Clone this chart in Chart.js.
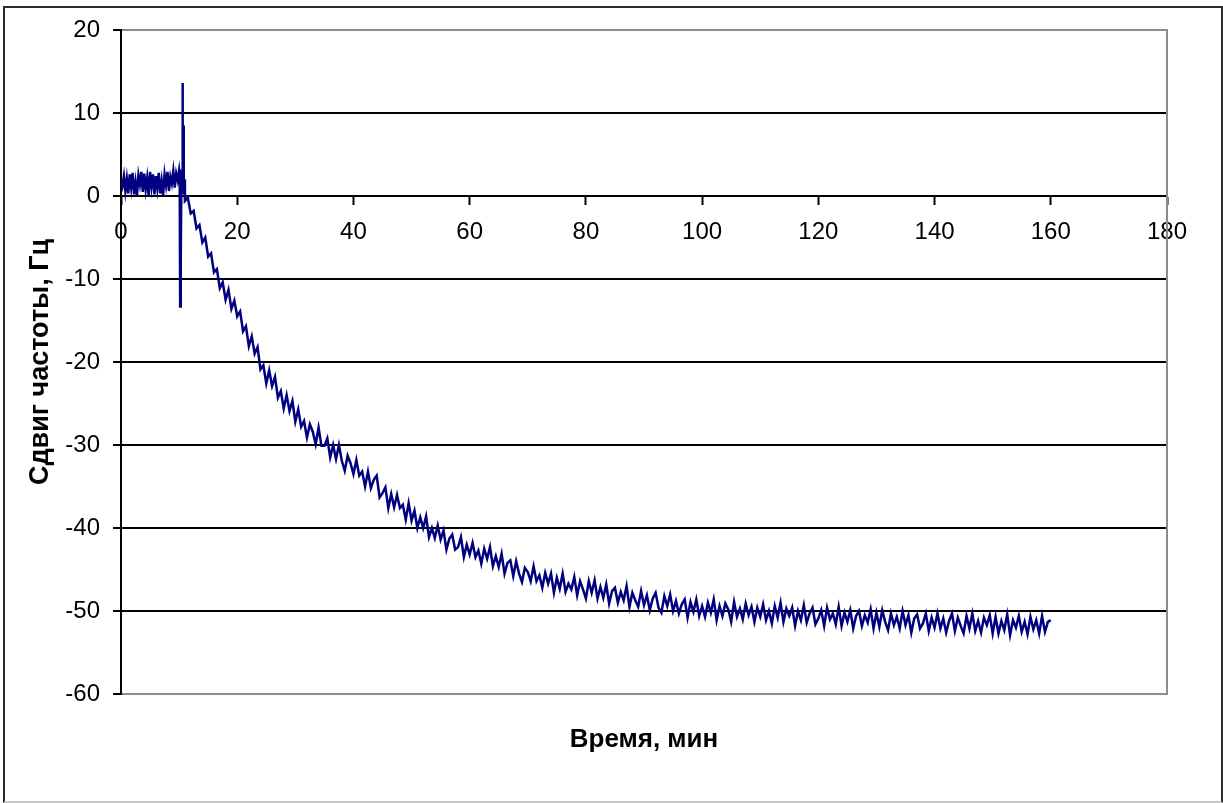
<!DOCTYPE html>
<html>
<head>
<meta charset="utf-8">
<script src="https://cdn.jsdelivr.net/npm/chart.js@4"></script>
<style>
	html, body { margin: 0; padding: 0; background: #fff; }
	.frame {
		position: absolute; left: 3px; top: 6px; width: 1216px; height: 793px;
		border: 2px solid #2a2a2a; border-bottom-color: #c8c8c8;
	}
	.div_chart { position: absolute; left: 0; top: 0; width: 1223px; height: 803px; }
</style>
</head>
<body>
<div class="frame"></div>
<div class="div_chart"><canvas class="chart"></canvas></div>
<script>
// before the step: noisy baseline, time in minutes
const baseStart = 0;
const baseStep = 0.25;
const baseValues = [1.9, 1.2, 2.4, 0.6, 2.1, 0.3, 2.6, 1.0, 2.8, 0.2, 1.7, 0.1, 2.5, 1.4,
	2.9, 0.5, 2.7, 0.8, 2.2, 0.1, 2.9, 1.1, 2.6, 0.2, 2.4, 0.9, 2.8, 0.3, 1.8, 0.1, 2.6, 1.3,
	2.9, 0.6, 2.3, 1.5, 3.0, 1.0, 2.7, 1.9, 3.1];

// the spike around 10 min
const spikeTimes = [10.1, 10.18, 10.25, 10.32, 10.4, 10.5, 10.58, 10.65, 10.72, 10.8, 10.9, 11.0];
const spikeValues = [2.4, -13.3, 2.6, -7.5, 3.2, 1.2, 13.6, 0.5, 8.5, 0.2, 2.0, -0.6];

// decay after the step, sampled every 0.5 min
const decayStart = 11.5;
const decayStep = 0.5;
const decayEarly = [-0.2, -2.1, -1.8, -3.9, -3.5, -5.6, -5.0, -7.3, -6.9, -9.2, -8.8, -11.1,
	-10.4, -12.5, -11.3, -13.6, -12.6, -14.5,
	-13.9, -16.3, -15.7, -18.1, -16.9, -19.0, -18.2, -20.9, -20.4, -22.6, -21.0, -22.9,
	-21.8, -24.3, -23.5, -25.6, -24.0, -25.9, -24.7, -27.2,
	-25.7, -27.8, -27.1, -29.1, -27.5, -28.4, -29.9, -27.9, -30.1, -30.1, -29.2, -31.5,
	-30.0, -31.7, -30.0, -31.9, -33.1, -31.3, -32.2, -33.5,
	-31.8, -33.7, -33.2, -35.0, -33.2, -35.2, -34.2, -33.7, -36.3, -35.8, -35.1, -37.6,
	-35.9, -37.5, -36.0, -37.6, -37.2, -39.0, -37.0, -39.1];
const decayMid = [-37.9, -40.0, -38.7, -40.0, -38.6, -41.1, -40.0, -41.2, -39.7, -41.4,
	-40.3, -42.6, -41.3, -40.8, -42.6, -42.3, -41.1, -43.5, -42.0, -43.2,
	-41.8, -43.5, -42.7, -44.3, -42.5, -43.7, -42.3, -44.6, -43.4, -44.7, -43.1, -45.5,
	-44.2, -43.9, -45.8, -44.0, -45.5, -46.5, -44.8, -45.3,
	-46.4, -44.6, -46.4, -45.7, -47.2, -45.4, -46.7, -45.5, -47.8, -46.0, -47.3, -45.5,
	-47.7, -46.7, -47.4, -45.9, -48.1, -46.4, -47.4, -48.5,
	-46.4, -47.8, -46.3, -48.5, -47.1, -48.4, -46.8, -49.1, -47.6, -47.2, -49.0, -47.7,
	-48.7, -47.0, -49.5, -47.8, -48.7, -49.5, -47.6, -49.3,
	-48.1, -49.9, -48.5, -47.8, -49.6, -50.2, -48.2, -49.4, -48.0, -50.0, -48.8, -50.3,
	-49.2, -48.6, -50.8, -48.9, -50.1, -48.6, -50.6, -49.4];
const decayTail = [-50.7, -49.0, -50.2, -48.6, -51.1, -49.4, -50.6, -49.1, -49.8, -51.3,
	-48.9, -50.7, -49.7, -51.0, -49.1, -50.5, -49.5, -51.3, -49.6, -50.7,
	-49.2, -51.1, -50.0, -51.5, -49.4, -50.8, -49.0, -51.3, -49.7, -50.6, -49.6, -51.8,
	-50.0, -51.1, -49.3, -51.4, -50.3, -49.6, -51.6, -50.9,
	-49.9, -51.8, -49.6, -51.0, -50.3, -51.6, -49.5, -51.8, -50.2, -51.3, -49.9, -52.1,
	-50.6, -50.0, -51.8, -50.5, -51.4, -49.8, -52.1, -50.2,
	-51.9, -49.9, -51.3, -52.3, -50.3, -51.7, -50.7, -52.1, -50.0, -51.7, -50.5, -52.6,
	-50.9, -50.4, -52.1, -51.5, -50.3, -52.4, -50.8, -52.0,
	-50.3, -52.1, -50.9, -52.6, -51.2, -50.3, -52.4, -50.8, -51.8, -52.7, -50.6, -52.1,
	-50.3, -52.4, -51.2, -52.6, -50.8, -51.7, -50.5, -52.7,
	-50.7, -52.7, -51.2, -52.3, -50.4, -52.9, -51.1, -52.0, -50.6, -52.5, -51.3, -52.8,
	-50.7, -52.2, -51.1, -52.7, -50.6, -52.5, -51.3, -51.1];

const xMin = 0, xMax = 180, xStep = 20;
const yMin = -60, yMax = 20, yStep = 10;

const fontFamily = '"Liberation Sans", Arial, sans-serif';

const buildPoints = () => {
	const points = [];
	baseValues.forEach((v, i) => points.push({ x: baseStart + i * baseStep, y: v }));
	spikeTimes.forEach((t, i) => points.push({ x: t, y: spikeValues[i] }));
	decayEarly.concat(decayMid, decayTail).forEach((v, i) =>
		points.push({ x: decayStart + i * decayStep, y: v }));
	return points;
};

// gray border on top, right and bottom of the plot area
const plotFrame = {
	id: 'plotFrame',
	beforeDatasetsDraw(chart) {
		const { ctx, chartArea: a } = chart;
		ctx.save();
		ctx.strokeStyle = '#8c8c8c';
		ctx.lineWidth = 2;
		ctx.beginPath();
		ctx.moveTo(a.left + 1, a.top);
		ctx.lineTo(a.right, a.top);
		ctx.lineTo(a.right, a.bottom);
		ctx.lineTo(a.left + 1, a.bottom);
		ctx.stroke();
		ctx.restore();
	},
};

const ctx = document.querySelector('.chart');
new Chart(ctx, {
	type: 'line',
	data: {
		datasets: [
			{
				data: buildPoints(),
				borderColor: '#000080',
				borderWidth: 2.5,
				borderJoinStyle: 'miter',
				pointRadius: 0,
				tension: 0,
				fill: false,
			},
		],
	},
	options: {
		responsive: true,
		maintainAspectRatio: false,
		animation: false,
		layout: { padding: { left: 24, top: 30, right: 56, bottom: 0 } },
		plugins: {
			legend: { display: false },
			tooltip: { enabled: false },
		},
		scales: {
			x: {
				type: 'linear',
				min: xMin,
				max: xMax,
				position: { y: 0 },
				ticks: {
					stepSize: xStep,
					color: '#000',
					font: { family: fontFamily, size: 24 },
					padding: 14,
					maxRotation: 0,
					autoSkip: false,
				},
				grid: { drawOnChartArea: false, tickLength: 8, tickColor: '#000', tickWidth: 2 },
				border: { color: '#000', width: 2 },
				afterFit: (s) => { s.height = 0; },
			},
			x2: {
				type: 'linear',
				position: 'bottom',
				min: xMin,
				max: xMax,
				ticks: { display: false },
				grid: { display: false },
				border: { display: false },
				title: {
					display: true,
					text: 'Время, мин',
					color: '#000',
					font: { family: fontFamily, size: 26, weight: 'bold' },
					padding: { top: 0, bottom: 48 },
				},
				afterFit: (s) => { s.height = 109; },
			},
			y: {
				min: yMin,
				max: yMax,
				position: 'left',
				ticks: {
					stepSize: yStep,
					color: '#000',
					font: { family: fontFamily, size: 24 },
					padding: 13,
				},
				grid: {
					color: (c) => (c.tick.value === yMax || c.tick.value === yMin ? '#8c8c8c' : '#000'),
					lineWidth: 2,
					tickLength: 8,
					tickColor: '#000',
					tickWidth: 2,
				},
				border: { color: '#000', width: 2 },
				title: {
					display: true,
					text: 'Сдвиг частоты, Гц',
					color: '#000',
					font: { family: fontFamily, size: 27, weight: 'bold' },
					padding: 0,
				},
				afterFit: (s) => { s.width = 97; },
			},
		},
	},
	plugins: [plotFrame],
});
</script>
</body>
</html>
